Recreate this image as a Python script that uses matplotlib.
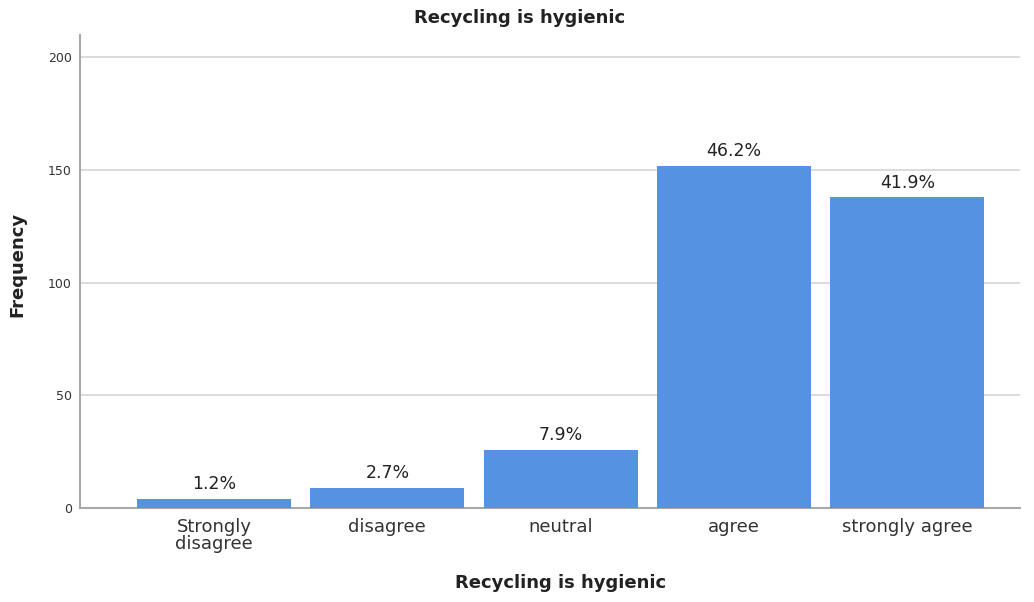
import numpy as np
import matplotlib.pyplot as plt

# Data
categories = ['Strongly\ndisagree', 'disagree', 'neutral', 'agree', 'strongly agree']
counts = [4, 9, 26, 152, 138]
percents = ['1.2%', '2.7%', '7.9%', '46.2%', '41.9%']
yticks = [0, 50, 100, 150, 200]

fig = plt.figure(figsize=(10.34, 6.02), dpi=100)
ax = fig.add_axes([0.0774, 0.156, 0.909, 0.786])

x = np.arange(len(categories))
ax.bar(x, counts, width=0.89, color='#5592e0', zorder=3)

# percentage labels above bars
for xi, c, p in zip(x, counts, percents):
    ax.text(xi, c + 6.5, p, ha='center', va='center', fontsize=12.5, color='#222222')

ax.set_xlim(-0.773, 4.65)
ax.set_ylim(0, 210)
ax.set_yticks(yticks)
ax.set_xticks(x)
ax.set_xticklabels(categories, fontsize=13, color='#333333', linespacing=0.95)
ax.tick_params(axis='y', labelsize=9, length=0, pad=6, colors='#333333')
ax.tick_params(axis='x', length=0, pad=7)
ax.grid(axis='y', color='#d4d4d4', linewidth=1.2, zorder=0)

for s in ['top', 'right']:
    ax.spines[s].set_visible(False)
for s in ['left', 'bottom']:
    ax.spines[s].set_color('#a8a8a8')
    ax.spines[s].set_linewidth(1.5)

ax.set_title('Recycling is hygienic', fontsize=13, fontweight='bold',
             x=0.468, y=1.036, pad=0, va='center', color='#222222')
ax.set_xlabel('Recycling is hygienic', fontsize=13, fontweight='bold', va='center', color='#222222')
ax.xaxis.set_label_coords(0.511, -0.159)
ax.set_ylabel('Frequency', fontsize=13, fontweight='bold', va='center', color='#222222')
ax.yaxis.set_label_coords(-0.067, 0.514)

plt.savefig('out.png', dpi=100)
